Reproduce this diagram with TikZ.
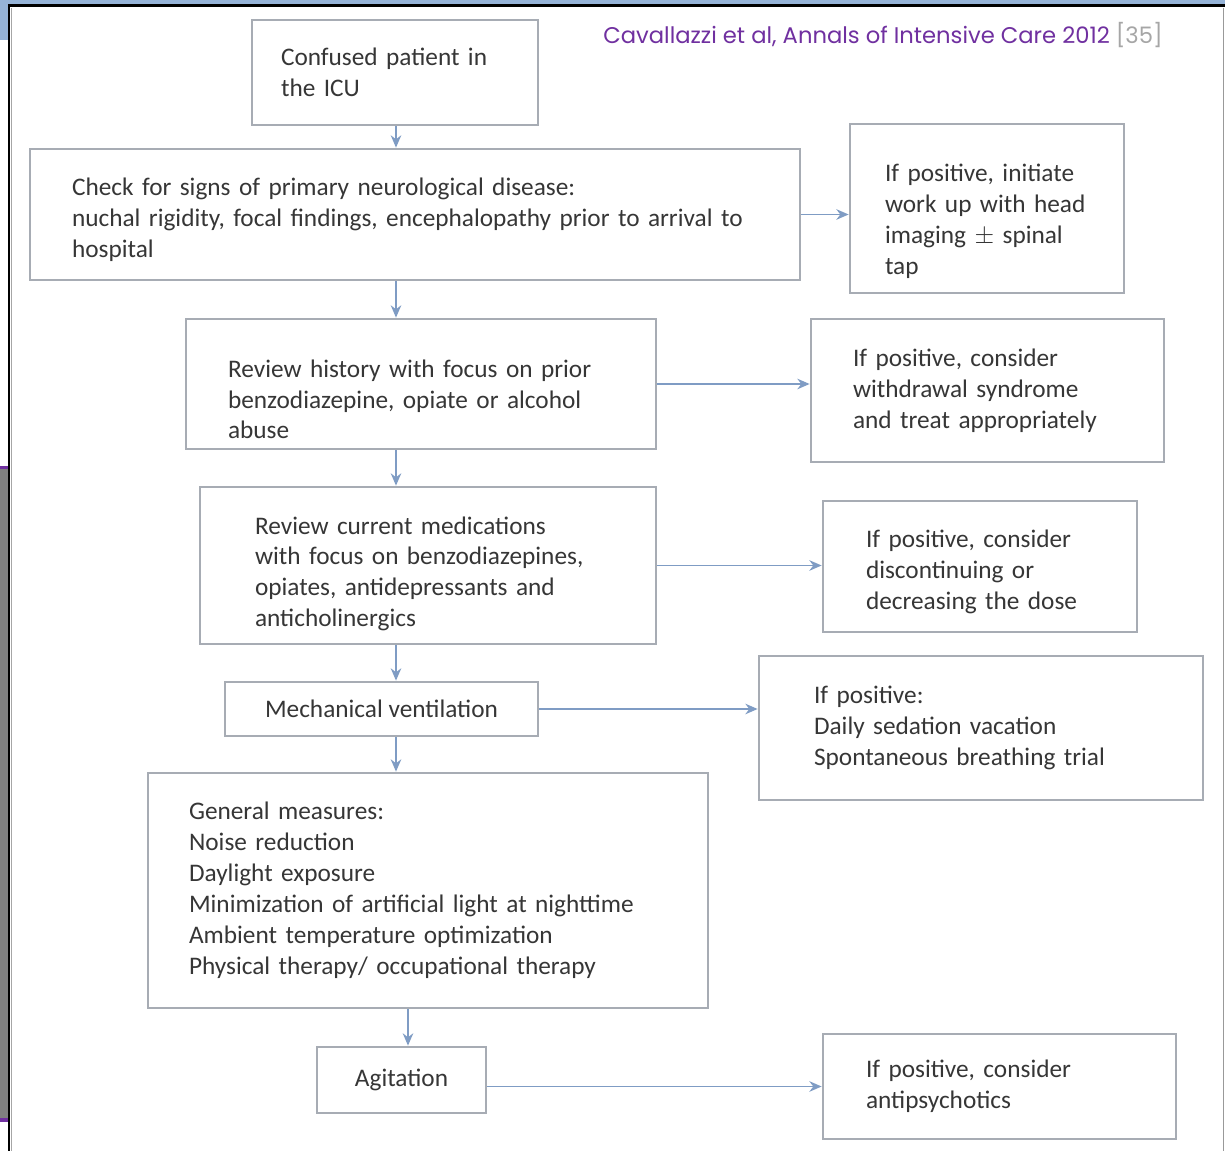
\documentclass[tikz,border=0pt]{standalone}
\usepackage{fontspec}
\setmainfont{Carlito}
\newfontfamily\titlefont{Poppins}
\usetikzlibrary{%
  arrows.meta,%
  calc%
}
\definecolor{boxgray}{HTML}{A7ACB4}
\definecolor{txtgray}{HTML}{363636}
\definecolor{arrblue}{HTML}{7F9CC4}
\definecolor{refpurple}{HTML}{7030A0}
\definecolor{slideblue}{HTML}{95B3D7}
\tikzset{
  box/.style={draw=boxgray,line width=1.6pt,rectangle,align=left,
    text=txtgray,font=\fontsize{14.4}{17.6}\selectfont,inner ysep=2pt},
  drop/.style={execute at begin node={\rule{0pt}{#1}}},
  arr/.style={draw=arrblue,line width=0.9pt,-{Stealth[length=7pt,width=6pt]}}
}

\begin{document}
\begin{tikzpicture}[x=0.02cm,y=-0.02cm]
  \useasboundingbox (0,0) rectangle (1225,1151);
  % slide frame
  \fill[white] (0,0) rectangle (1225,1151);
  \fill[slideblue] (0,0) rectangle (1225,4);
  \fill[slideblue] (0,0) rectangle (8,40);
  \fill[gray] (0,468) rectangle (8,1120);
  \fill[refpurple] (0,466) rectangle (8,469);
  \fill[refpurple] (0,1118) rectangle (8,1122);
  \draw[black,line width=1.7pt] (9,1151) -- (9,5.5) -- (1225,5.5);
  \draw[gray!70,line width=0.6pt] (11.5,1151) -- (11.5,8);
  \draw[gray!80,line width=0.6pt] (1223.5,8) -- (1223.5,1151);
  \node[font=\titlefont\fontsize{12.9}{15}\selectfont,anchor=east,inner sep=0pt]
    (ref) at (1163,35) {\textcolor{refpurple}{Cavallazzi et al, Annals of Intensive Care 2012} \textcolor{gray!70}{[35]}};

  % main column
  \node[box,minimum width=5.72cm,minimum height=2.1cm,inner xsep=0.58cm,text width=4.56cm]
    (confused) at (395,72.5) {Confused patient in\\the ICU};
  \node[box,drop=16pt,minimum width=15.4cm,minimum height=2.62cm,inner xsep=0.84cm,text width=13.72cm]
    (neuro) at (415,214.5) {Check for signs of primary neurological disease:\\nuchal rigidity, focal findings, encephalopathy prior to arrival to\\hospital};
  \node[box,drop=27.5pt,minimum width=9.4cm,minimum height=2.6cm,inner xsep=0.84cm,text width=7.72cm]
    (history) at (421,384) {Review history with focus on prior\\benzodiazepine, opiate or alcohol\\abuse};
  \node[box,drop=19.5pt,minimum width=9.12cm,minimum height=3.14cm,inner xsep=1.1cm,text width=6.92cm]
    (meds) at (428,565.5) {Review current medications\\with focus on benzodiazepines,\\opiates, antidepressants and\\anticholinergics};
  \node[box,align=center,minimum width=6.26cm,minimum height=1.08cm]
    (vent) at (381.5,709) {Mechanical ventilation};
  \node[box,minimum width=11.2cm,minimum height=4.7cm,inner xsep=0.82cm,text width=9.56cm]
    (general) at (428,890.5) {General measures:\\Noise reduction\\Daylight exposure\\Minimization of artificial light at nighttime\\Ambient temperature optimization\\Physical therapy/ occupational\ therapy};
  \node[box,align=center,minimum width=3.38cm,minimum height=1.32cm]
    (agit) at (401.5,1080) {Agitation};

  % right column
  \node[box,drop=24.5pt,minimum width=5.48cm,minimum height=3.38cm,inner xsep=0.7cm,text width=4.08cm]
    (imaging) at (987,208.5) {If positive, initiate\\work up with head\\imaging $\pm$ spinal\\tap};
  \node[box,minimum width=7.06cm,minimum height=2.86cm,inner xsep=0.84cm,text width=5.38cm]
    (withdraw) at (987.5,390.5) {If positive, consider\\withdrawal syndrome\\and treat appropriately};
  \node[box,drop=16pt,minimum width=6.28cm,minimum height=2.62cm,inner xsep=0.86cm,text width=4.56cm]
    (dose) at (980,566.5) {If positive, consider\\discontinuing or\\decreasing the dose};
  \node[box,minimum width=8.88cm,minimum height=2.88cm,inner xsep=1.1cm,text width=6.68cm]
    (sedation) at (981,728) {If positive:\\Daily sedation vacation\\Spontaneous breathing trial};
  \node[box,minimum width=7.06cm,minimum height=2.1cm,inner xsep=0.86cm,text width=5.34cm]
    (antipsy) at (999.5,1086.5) {If positive, consider\\antipsychotics};

  % connectors
  \coordinate (spine) at (396,0);
  \coordinate (spineb) at (408,0);
  \draw[arr] (confused.south -| spine) -- (neuro.north -| spine);
  \draw[arr] (neuro.south -| spine) -- (history.north -| spine);
  \draw[arr] (history.south -| spine) -- (meds.north -| spine);
  \draw[arr] (meds.south -| spine) -- (vent.north -| spine);
  \draw[arr] (vent.south -| spine) -- (general.north -| spine);
  \draw[arr] (general.south -| spineb) -- (agit.north -| spineb);
  \draw[arr] (neuro.east) -- (neuro.east -| imaging.west);
  \draw[arr] (history.east) -- (history.east -| withdraw.west);
  \draw[arr] (meds.east) -- (meds.east -| dose.west);
  \draw[arr] (vent.east) -- (vent.east -| sedation.west);
  \draw[arr] (antipsy.west -| agit.east) -- (antipsy.west);
\end{tikzpicture}
\end{document}
